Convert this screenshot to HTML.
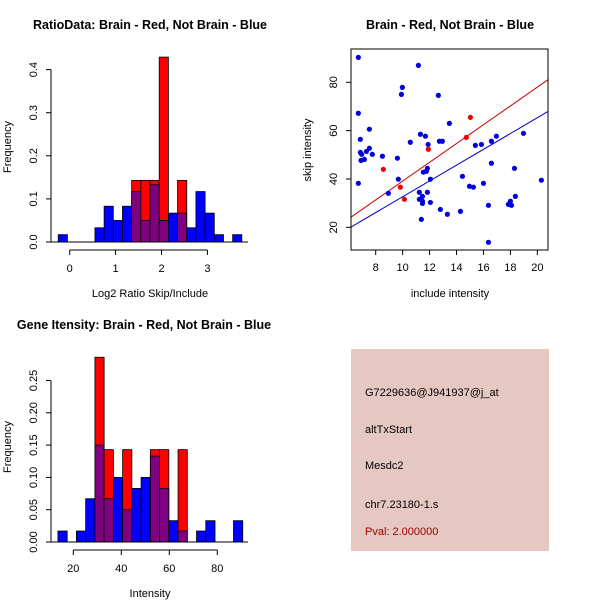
<!DOCTYPE html>
<html><head><meta charset="utf-8"><style>
body{margin:0;background:#fff}
svg{display:block;font-family:"Liberation Sans",sans-serif}
</style></head><body>
<svg id="s" width="600" height="600" xmlns="http://www.w3.org/2000/svg">
<rect width="600" height="600" fill="#fff"/>
<text x="150" y="29" text-anchor="middle" font-size="12.5" font-weight="bold">RatioData: Brain - Red, Not Brain - Blue</text>
<text x="450" y="29" text-anchor="middle" font-size="12.5" font-weight="bold">Brain - Red, Not Brain - Blue</text>
<text x="144" y="329" text-anchor="middle" font-size="12.5" font-weight="bold">Gene Itensity: Brain - Red, Not Brain - Blue</text>
<text x="150" y="297" text-anchor="middle" font-size="11">Log2 Ratio Skip/Include</text>
<text x="450" y="297" text-anchor="middle" font-size="11">include intensity</text>
<text x="150" y="597" text-anchor="middle" font-size="11">Intensity</text>
<text transform="translate(11,147) rotate(-90)" text-anchor="middle" font-size="11">Frequency</text>
<text transform="translate(311,150) rotate(-90)" text-anchor="middle" font-size="11">skip intensity</text>
<text transform="translate(11,447) rotate(-90)" text-anchor="middle" font-size="11">Frequency</text>
<rect x="351" y="349" width="198" height="202" fill="#e6c8c2"/>
<text x="365" y="396" font-size="11">G7229636@J941937@j_at</text>
<text x="365" y="433" font-size="11">altTxStart</text>
<text x="365" y="469" font-size="11">Mesdc2</text>
<text x="365" y="508" font-size="11">chr7.23180-1.s</text>
<text x="365" y="535" font-size="11" fill="#a00000">Pval: 2.000000</text>
</svg>
<script>
const ratioBlue=[0.017,0,0,0,0.033,0.083,0.05,0.083,0.117,0.05,0.133,0.05,0.067,0.067,0.033,0.117,0.067,0.017,0,0.017];
const ratioRed=[0,0,0,0,0,0,0,0,0.143,0.143,0.143,0.429,0,0.143,0,0,0,0,0,0];
const ratioXTicks=[0,1,2,3];
const ratioYTicks=["0.0","0.1","0.2","0.3","0.4"];
const intBlue=[0.017,0,0.017,0.067,0.15,0.067,0.1,0.05,0.083,0.1,0.133,0.083,0.033,0.017,0,0.017,0.033,0,0,0.033];
const intRed=[0,0,0,0,0.286,0.143,0,0.143,0,0,0.143,0.143,0,0.143,0,0,0,0,0,0];
const intXTicks=[20,40,60,80];
const intYTicks=["0.00","0.05","0.10","0.15","0.20","0.25"];
const blueX=[6.71,6.71,6.71,6.86,6.86,6.96,6.91,7.16,7.31,7.53,7.53,7.75,8.5,8.94,9.61,9.68,9.91,9.98,10.57,11.17,11.32,11.69,11.89,11.84,11.76,11.54,12.06,11.84,11.24,11.47,11.24,11.47,11.47,12.06,11.39,12.65,12.73,12.95,12.8,13.32,13.47,14.29,14.44,14.96,15.25,15.4,15.85,16.0,16.37,16.37,16.59,16.59,16.96,17.85,18.0,18.08,18.3,18.37,18.97,20.3];
const blueY=[90.3,67.2,38.2,56.4,51.0,50.2,47.7,48.1,51.4,52.7,60.6,50.2,49.4,34.1,48.6,39.9,75.0,77.9,55.2,87.0,58.5,57.7,54.3,44.4,43.2,42.8,39.9,34.5,34.5,32.8,31.6,30.8,29.9,30.3,23.3,74.6,55.6,55.6,27.4,25.4,63.0,26.6,41.1,37.0,36.6,53.9,54.3,38.2,29.1,13.8,46.5,55.6,57.7,29.5,30.8,29.1,44.4,32.8,58.9,39.5];
const redX=[8.57,9.83,10.13,11.91,14.73,15.03];
const redY=[44.0,36.6,31.6,52.3,57.2,65.5];
const redFit=[0.21,3.89];
const blueFit=[-0.06,3.27];
const scXTicks=[8,10,12,14,16,18,20];
const scYTicks=[20,40,60,80];

const svg=document.getElementById('s');
const NS='http://www.w3.org/2000/svg';
function mk(tag,attrs,name){const e=document.createElementNS(NS,tag);for(const k in attrs)e.setAttribute(k,attrs[k]);


svg.appendChild(e);return e;}
function txt(x,y,s,name,rot){const e=mk('text',{x:x,y:y,'font-size':11,'text-anchor':'middle'},name);if(rot)e.setAttribute('transform','rotate(-90 '+x+' '+y+')');e.textContent=s;return e;}

function hist(p){
  const sx=v=>p.x0+(v-p.d0)*p.xs, sy=v=>p.y0-v*p.ys;
  for(let i=0;i<p.blue.length;i++){
    const a=p.start+i*p.w,b=a+p.w,bl=p.blue[i],rd=p.red[i];
    const x=sx(a),wd=sx(b)-sx(a);
    if(bl===0&&rd===0)continue;
    const hi=Math.max(bl,rd),lo=Math.min(bl,rd);
    const topCol=rd>bl?'#ff0000':'#0000ff';
    mk('rect',{x:x,y:sy(hi),width:wd,height:sy(0)-sy(hi),fill:topCol,stroke:'#000','stroke-width':0.8},p.id+'-bar-'+i);
    if(lo>0&&rd>0&&bl>0){mk('rect',{x:x,y:sy(lo),width:wd,height:sy(0)-sy(lo),fill:'#800080',stroke:'#000','stroke-width':0.8},p.id+'-overlap-'+i);}
  }
  mk('line',{x1:sx(p.xt[0]),x2:sx(p.xt[p.xt.length-1]),y1:p.y0+8,y2:p.y0+8,stroke:'#000'},p.id+'-x-axis');
  p.xt.forEach(t=>{mk('line',{x1:sx(t),x2:sx(t),y1:p.y0+8,y2:p.y0+13,stroke:'#000'},p.id+'-x-tick');txt(sx(t),p.y0+30,String(t),p.id+'-x-tick-label');});
  const yv=p.yt.map(Number);
  mk('line',{x1:51,x2:51,y1:sy(yv[0]),y2:sy(yv[yv.length-1]),stroke:'#000'},p.id+'-y-axis');
  p.yt.forEach(t=>{const y=sy(Number(t));mk('line',{x1:46,x2:51,y1:y,y2:y,stroke:'#000'},p.id+'-y-tick');txt(37,y,t,p.id+'-y-tick-label',true);});
  mk('line',{x1:51,x2:248,y1:p.y0,y2:p.y0,stroke:'#000'},p.id+'-baseline');
}
hist({id:'ratio',blue:ratioBlue,red:ratioRed,start:-0.25,w:0.2,x0:69.7,d0:0,xs:45.9,y0:242,ys:431,xt:ratioXTicks,yt:ratioYTicks});
hist({id:'intensity',blue:intBlue,red:intRed,start:13.6,w:3.85,x0:73.3,d0:20,xs:2.4,y0:542,ys:646,xt:intXTicks,yt:intYTicks});

const sx=v=>375.7+(v-8)*13.47, sy=v=>82.3-(v-80)*2.417;
const L=351,R=548,T=49,B=250;
const xmin=(L-375.7)/13.47+8,xmax=(R-375.7)/13.47+8;
function fit(f,col,name){mk('line',{x1:L,x2:R,y1:sy(f[0]+f[1]*xmin),y2:sy(f[0]+f[1]*xmax),stroke:col,'stroke-width':1},name);}
fit(redFit,'#cc0000','red-fit-line');
fit(blueFit,'#0000cc','blue-fit-line');
blueX.forEach((v,i)=>mk('circle',{cx:sx(v),cy:sy(blueY[i]),r:2.6,fill:'#0000dd'},'blue-point'));
redX.forEach((v,i)=>mk('circle',{cx:sx(v),cy:sy(redY[i]),r:2.6,fill:'#ee0000'},'red-point'));
mk('rect',{x:L,y:T,width:R-L,height:B-T,fill:'none',stroke:'#000'},'scatter-frame');
scXTicks.forEach(t=>{mk('line',{x1:sx(t),x2:sx(t),y1:B,y2:B+5,stroke:'#000'},'scatter-x-tick');txt(sx(t),B+21,String(t),'scatter-x-tick-label');});
scYTicks.forEach(t=>{mk('line',{x1:L-5,x2:L,y1:sy(t),y2:sy(t),stroke:'#000'},'scatter-y-tick');txt(L-14,sy(t),String(t),'scatter-y-tick-label',true);});
</script>
</body></html>
